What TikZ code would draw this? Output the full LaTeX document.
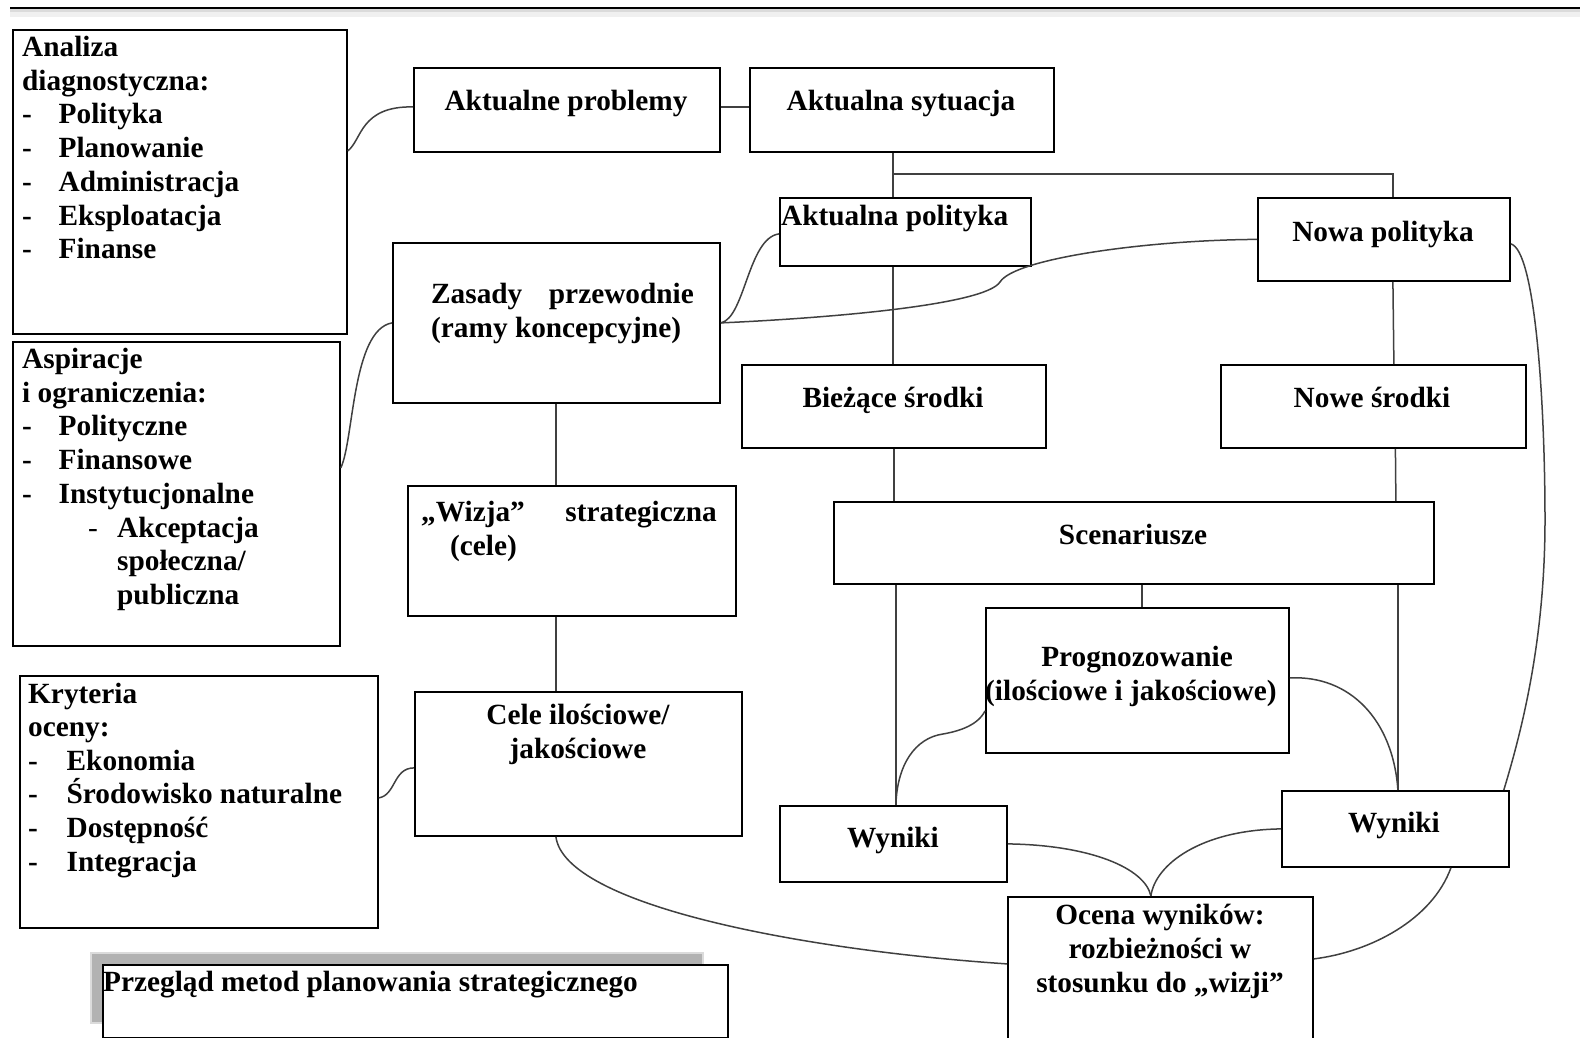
\documentclass[tikz,border=0pt]{standalone}
\usepackage{fontspec}
\setmainfont{Liberation Serif}
\begin{document}
\begin{tikzpicture}[x=1pt,y=-1pt,
  box/.style={draw=black, line width=1.8pt, fill=white, inner sep=0pt, anchor=north west},
  link/.style={draw=black!75, line width=1.5pt},
  tl/.style={inner sep=0pt, anchor=base west},
  tc/.style={inner sep=0pt, anchor=base},
  tr/.style={inner sep=0pt, anchor=base east},
  thin dash/.style={inner sep=0pt, anchor=base west, font=\fontsize{29.3}{33.6}\selectfont\mdseries},
  font=\fontsize{29.3}{33.6}\selectfont\bfseries]

\clip (0,0) rectangle (1580,1038);

% page rule with its soft grey edge
\fill[black!14] (10,9) rectangle (1580,12);
\fill[black!6] (10,12) rectangle (1580,17);
\draw[line width=2.4pt] (10,7.8) -- (1580,7.8);

% ---------- boxes ----------
\node[box, minimum width=334pt, minimum height=304pt] (analiza)   at (12,29)   {};
\node[box, minimum width=327pt, minimum height=304pt] (aspiracje) at (12,341)  {};
\node[box, minimum width=358pt, minimum height=252pt] (kryteria)  at (19,675)  {};
\node[box, minimum width=306pt, minimum height=84pt]  (problemy)  at (413,67)  {};
\node[box, minimum width=304pt, minimum height=84pt]  (sytuacja)  at (749,67)  {};
\node[box, minimum width=327pt, minimum height=160pt] (zasady)    at (392,242) {};
\node[box, minimum width=328pt, minimum height=130pt] (wizja)     at (407,485) {};
\node[box, minimum width=327pt, minimum height=144pt] (cele)      at (414,691) {};
\node[box, minimum width=251pt, minimum height=68pt]  (apolityka) at (779,197) {};
\node[box, minimum width=252pt, minimum height=83pt]  (npolityka) at (1257,197) {};
\node[box, minimum width=304pt, minimum height=83pt]  (biezace)   at (741,364) {};
\node[box, minimum width=305pt, minimum height=83pt]  (nsrodki)   at (1220,364) {};
\node[box, minimum width=600pt, minimum height=82pt]  (scen)      at (833,501) {};
\node[box, minimum width=303pt, minimum height=145pt] (prog)      at (985,607) {};
\node[box, minimum width=227pt, minimum height=76pt]  (wynikia)   at (779,805) {};
\node[box, minimum width=227pt, minimum height=76pt]  (wynikib)   at (1281,790) {};
\node[box, minimum width=305pt, minimum height=150pt] (ocena)     at (1007,896) {};

% caption box with its grey shadow
\fill[black!14] (90,952) rectangle (704,1024);
\fill[black!30] (92,954) rectangle (702,1022);
\node[box, minimum width=625pt, minimum height=73pt] (caption) at (102,964) {};

% ---------- straight connectors ----------
\draw[link] ([yshift=3pt]problemy.east) -- ([yshift=3pt]sytuacja.west);
\draw[link] ([xshift=-9pt]sytuacja.south) -- ([xshift=-12.5pt]apolityka.north);
\draw[link] ([xshift=-9pt]sytuacja.south) ++(0,21) -| ([xshift=9pt]npolityka.north);
\draw[link] ([xshift=-12.5pt]apolityka.south) -- ([xshift=-1pt]biezace.north);
\draw[link] (biezace.south) -- ([xshift=-240pt]scen.north);
\draw[link] ([xshift=-238pt]scen.south) -- ([xshift=2.5pt]wynikia.north);
\draw[link] ([xshift=9pt]npolityka.south) -- ([xshift=20.5pt]nsrodki.north);
\draw[link] ([xshift=22pt]nsrodki.south) -- ([xshift=262pt]scen.north);
\draw[link] ([xshift=264pt]scen.south) -- ([xshift=2.5pt]wynikib.north);
\draw[link] ([xshift=8pt]scen.south) -- ([xshift=4.5pt]prog.north);
\draw[link] (zasady.south -| 556,0) -- (wizja.north -| 556,0);
\draw[link] (wizja.south -| 556,0) -- (cele.north -| 556,0);

% ---------- curved connectors ----------
\draw[link] ([yshift=31pt]analiza.east) .. controls (362,140) and (360,106) .. ([yshift=3pt]problemy.west);
\draw[link] ([yshift=26pt]aspiracje.east) .. controls (354,440) and (352,330) .. (zasady.west);
\draw[link] ([yshift=4pt]kryteria.east) .. controls (396,795) and (393,768) .. ([yshift=-4pt]cele.west);
\draw[link] (zasady.east) .. controls (745,318) and (748,238) .. ([yshift=-2pt]apolityka.west);
\draw[link] (zasady.east) .. controls (830,318) and (985,305) .. (1000,282)
            .. controls (1015,258) and (1150,240) .. (npolityka.west);
\draw[link] ([xshift=-22.5pt]cele.south) .. controls (565,905) and (800,950) .. ([yshift=8pt]ocena.west);
\draw[link] ([yshift=-4.5pt]npolityka.east) .. controls (1535,250) and (1545,400) .. (1545,520)
            .. controls (1545,640) and (1522,730) .. ([xshift=-6pt]wynikib.north east);
\draw[link] ([yshift=-30.5pt]prog.west) .. controls (978,725) and (960,731) .. (943,734)
            .. controls (915,738) and (897,765) .. ([xshift=2.5pt]wynikia.north);
\draw[link] ([yshift=2.5pt]prog.east) .. controls (1350,675) and (1393,720) .. ([xshift=2.5pt]wynikib.north);
\draw[link] (wynikia.east) .. controls (1090,845) and (1145,868) .. ([xshift=-9.5pt]ocena.north);
\draw[link] (wynikib.west) .. controls (1200,830) and (1155,865) .. ([xshift=-9.5pt]ocena.north);
\draw[link] ([xshift=55.5pt]wynikib.south) .. controls (1432,920) and (1370,952) .. ([yshift=13pt]ocena.east);

% ---------- texts ----------
% Analiza diagnostyczna
\node[tl] (an1) at (22,56.5)  {Analiza};
\node[tl] (an2) at (22,90.2)  {diagnostyczna:};
\node[tl] (an3d) at (22,124)   {-};
\node[tl] (an3) at (58.5,124)  {Polityka};
\node[tl] (an4d) at (22,157.6) {-};
\node[tl] (an4) at (58.5,157.6) {Planowanie};
\node[tl] (an5d) at (22,191.3) {-};
\node[tl] (an5) at (58.5,191.3) {Administracja};
\node[tl] (an6d) at (22,225)   {-};
\node[tl] (an6) at (58.5,225)  {Eksploatacja};
\node[tl] (an7d) at (22,258.7) {-};
\node[tl] (an7) at (58.5,258.7) {Finanse};

% Aspiracje i ograniczenia
\node[tl] (as1) at (22,368)  {Aspiracje};
\node[tl] (as2) at (22,402)  {i ograniczenia:};
\node[tl] (as3d) at (22,435) {-};
\node[tl] (as3) at (58.5,435) {Polityczne};
\node[tl] (as4d) at (22,469) {-};
\node[tl] (as4) at (58.5,469) {Finansowe};
\node[tl] (as5d) at (22,503) {-};
\node[tl] (as5) at (58.5,503) {Instytucjonalne};
\node[thin dash] (as6d) at (88,537) {-};
\node[tl] (as6) at (117,537) {Akceptacja};
\node[tl] (as7) at (117,570) {społeczna/};
\node[tl] (as8) at (117,604) {publiczna};

% Kryteria oceny
\node[tl] (kr1) at (28,703)   {Kryteria};
\node[tl] (kr2) at (28,736.6) {oceny:};
\node[tl] (kr3d) at (28,770.2) {-};
\node[tl] (kr3) at (66.5,770.2) {Ekonomia};
\node[tl] (kr4d) at (28,803.8) {-};
\node[tl] (kr4) at (66.5,803.8) {Środowisko naturalne};
\node[tl] (kr5d) at (28,837.4) {-};
\node[tl] (kr5) at (66.5,837.4) {Dostępność};
\node[tl] (kr6d) at (28,871)  {-};
\node[tl] (kr6) at (66.5,871) {Integracja};

% central column
\node[tc] (tproblemy) at (566,111) {Aktualne problemy};
\node[tc] (tsytuacja) at (901,111) {Aktualna sytuacja};
\node[tl] (tzas1) at (431,303) {Zasady};
\node[tr] (tzas2) at (694,303) {przewodnie};
\node[tl] (tzas3) at (431,337) {(ramy koncepcyjne)};
\node[tl] (twiz1) at (421,521) {„Wizja”};
\node[tr] (twiz2) at (717,521) {strategiczna};
\node[tl] (twiz3) at (450,555) {(cele)};
\node[tc] (tcele1) at (578,724) {Cele ilościowe/};
\node[tc] (tcele2) at (578,758) {jakościowe};

% right part
\node[tl] (tapol) at (781,225) {Aktualna polityka};
\node[tc] (tnpol) at (1383,241) {Nowa polityka};
\node[tc] (tbiez) at (893,407) {Bieżące środki};
\node[tc] (tnsro) at (1372,407) {Nowe środki};
\node[tc] (tscen) at (1133,544) {Scenariusze};
\node[tc] (tprog1) at (1137,666) {Prognozowanie};
\node[tl] (tprog2) at (985,700) {(ilościowe i jakościowe)};
\node[tc] (twyna) at (893,847) {Wyniki};
\node[tc] (twynb) at (1394,832) {Wyniki};
\node[tc] (toc1) at (1160,924) {Ocena wyników:};
\node[tc] (toc2) at (1160,958) {rozbieżności w};
\node[tc] (toc3) at (1160,992) {stosunku do „wizji”};

% caption
\node[tl] (tcaption) at (103,991) {Przegląd metod planowania strategicznego};
\end{tikzpicture}
\end{document}
